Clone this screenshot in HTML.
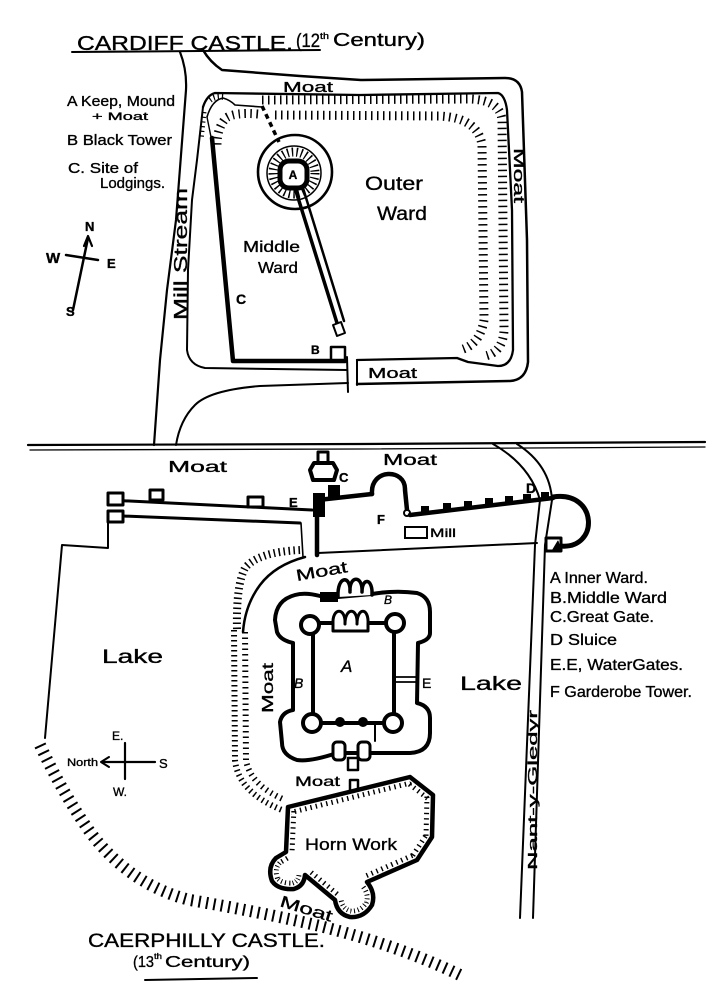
<!DOCTYPE html>
<html>
<head>
<meta charset="utf-8">
<style>
html,body{margin:0;padding:0;background:#fff;}
svg{display:block;}
text{font-family:"Liberation Sans",sans-serif;fill:#000;stroke:#000;stroke-width:0.35;}
</style>
</head>
<body>
<svg width="722" height="1000" viewBox="0 0 722 1000" xmlns="http://www.w3.org/2000/svg">
<defs>
<clipPath id="hornclip"><path d="M288,807 L410,777 L433,795 L432,837 L417,860 L367,882 Q376,893 372,905 Q364,918 350,917 Q337,914 335,900 L305,875 Q304,886 294,889 Q278,890 272,881 Q267,867 276,858 L286,852 Z"/></clipPath>
</defs>
<rect width="722" height="1000" fill="#fff"/>
<g fill="none" stroke="#000" stroke-linecap="round" stroke-linejoin="round">

<!-- ========== CARDIFF ========== -->
<path d="M72,52 L200,51 L320,50" stroke-width="2"/>
<path d="M180,52 Q187,70 186,90 L176,220 L167,290 L160,360 L154,445" stroke-width="2.2"/>
<path d="M203,50 Q210,62 222,70 L300,76 L361,80 L505,78 Q520,78 522,92 L527,240 L528,362 Q526,380 510,381 L357,384" stroke-width="2.5"/>
<path d="M203,107 Q207,95 215,93 L360,95 L498,93 Q505,95 507,110 L512,210 L513,350 Q511,366 498,366 L468,362 L457,358 L357,360" stroke-width="2.3"/>
<path d="M203,107 L197,160 L192,200 L188,270 L187,350 Q189,365 205,368 L347,370" stroke-width="2"/>
<path d="M348,383 L260,386 Q210,390 195,405 Q180,420 176,445" stroke-width="2"/>
<path d="M347,357 L348,392" stroke-width="2"/>
<path d="M357,360 L357,385" stroke-width="2"/>
<path d="M207,117 Q212,100 223,98 Q230,100 235,105 L262,107" stroke-width="1.6"/>
<path d="M207,117 L212,142" stroke-width="1.4"/>
<!-- bank hatching -->
<path d="M262,100 L470,99 Q500,100 502,120 L504,330 Q503,352 485,356" stroke-width="9" stroke-dasharray="1.5 4.5" stroke-linecap="butt"/>
<path d="M275,115 L440,116 Q478,118 482,145 L484,320 Q480,345 460,350" stroke-width="9" stroke-dasharray="1.5 4.5" stroke-linecap="butt"/>
<path d="M258,114 Q235,112 226,118 Q217,128 217,145" stroke-width="9" stroke-dasharray="1.5 4.5" stroke-linecap="butt"/>
<path d="M210,100 Q215,96 224,97" stroke-width="6" stroke-dasharray="1.2 3" stroke-linecap="butt"/>
<path d="M204,112 L201,140" stroke-width="5" stroke-dasharray="1.2 3.5" stroke-linecap="butt"/>
<!-- middle ward wall C -->
<path d="M212,138 L233,361 L345,361" stroke-width="4.5"/>
<path d="M262,106 L279,142" stroke-width="3.5" stroke-dasharray="5 4" stroke-linecap="butt"/>
<!-- keep -->
<circle cx="295" cy="172" r="37" stroke-width="2.6"/>
<circle cx="294" cy="173" r="27" stroke-width="1.5"/>
<circle cx="294" cy="173" r="21" stroke-width="9" stroke-dasharray="1.4 3.2" stroke-linecap="butt"/>
<path d="M295,188 L337,323" stroke-width="3.5"/>
<path d="M303,188 L344,321" stroke-width="2.5"/>
<rect x="280" y="161" width="27" height="27" rx="9" stroke-width="5" fill="#fff"/>
<polygon points="333,325 341,322 345,333 337,336" stroke-width="2" fill="#fff"/>
<rect x="331" y="347" width="14" height="13" stroke-width="2.5" fill="#fff"/>
<!-- compass top -->
<path d="M73,310 L88,238" stroke-width="2.5"/>
<path d="M84,246 L88,236 L92,246" stroke-width="2.2"/>
<path d="M66,255 L98,260" stroke-width="2.5"/>

<!-- divider -->
<path d="M28,445 L360,444 L705,442" stroke-width="2.2"/>
<path d="M30,450 L360,449 L705,447" stroke-width="1.3"/>

<!-- ========== CAERPHILLY ========== -->
<path d="M108,500 L312,510" stroke-width="3"/>
<path d="M123,516 L300,523" stroke-width="3"/>
<path d="M301,523 L303,557" stroke-width="1.6"/>
<rect x="108" y="493" width="15" height="12" stroke-width="3" fill="#fff"/>
<rect x="150" y="490" width="13" height="10" stroke-width="3" fill="#fff"/>
<rect x="248" y="497" width="15" height="10" stroke-width="3" fill="#fff"/>
<rect x="108" y="511" width="15" height="11" stroke-width="3" fill="#fff"/>
<path d="M108,522 L108,548 L62,545 L45,738" stroke-width="2"/>
<!-- great gate -->
<rect x="318" y="452" width="10" height="11" stroke-width="3" fill="#fff"/>
<polygon points="314,463 333,463 337,470 334,480 313,480 310,470" stroke-width="4" fill="#fff"/>
<rect x="313" y="493" width="12" height="24" fill="#000" stroke="none"/>
<rect x="328" y="485" width="12" height="12" fill="#000" stroke="none"/>
<path d="M317,500 L317,555" stroke-width="4.5"/>
<path d="M318,500 L372,494" stroke-width="4.5"/>
<!-- F garderobe -->
<path d="M372,494 C370,468 406,468 405,490 L407,510" stroke-width="4.5"/>
<circle cx="407" cy="513" r="3" stroke-width="2" fill="#fff"/>
<path d="M410,515 L553,498" stroke-width="4.5"/>
<g fill="#000" stroke="none">
<rect x="421" y="506" width="8" height="7"/>
<rect x="443" y="503" width="8" height="7"/>
<rect x="464" y="501" width="8" height="7"/>
<rect x="485" y="498" width="8" height="7"/>
<rect x="505" y="496" width="8" height="7"/>
<rect x="523" y="494" width="8" height="7"/>
<rect x="541" y="492" width="8" height="7"/>
</g>
<path d="M553,497 C598,490 600,550 560,546" stroke-width="5"/>
<rect x="546" y="538" width="15" height="13" stroke-width="3" fill="#fff"/>
<path d="M552,551 L558,541 L561,551 Z" fill="#000" stroke-width="1"/>
<path d="M318,553 L537,543" stroke-width="2"/>
<!-- stream -->
<path d="M493,444 Q530,465 540,500 L535,545 L520,918" stroke-width="2"/>
<path d="M517,444 Q550,465 552,500 L545,545 L533,918" stroke-width="2"/>
<!-- hatch bank around castle -->
<path d="M300,550 Q258,552 245,568 Q236,585 237,630" stroke-width="8" stroke-dasharray="1.5 3.5" stroke-linecap="butt"/>
<path d="M234,630 L235,760 Q238,792 282,810" stroke-width="6" stroke-dasharray="1.5 3.5" stroke-linecap="butt"/>
<path d="M245,632 L246,760 Q250,785 285,800" stroke-width="6" stroke-dasharray="1.5 4" stroke-linecap="butt"/>
<path d="M305,557 Q275,565 260,585 Q245,605 243,632" stroke-width="2.5"/>
<!-- middle ward -->
<path d="M295,595 Q305,592 320,596 L338,597 L372,594 Q395,590 417,593 Q430,597 430,612 L430,633 Q430,640 418,643 L417,703 Q430,706 430,718 L430,733 Q430,752 410,753 L370,753 L337,753 Q310,762 297,760 Q282,755 282,743 L280,722 Q282,712 293,710 L293,643 Q280,640 277,632 L275,620 Q276,600 295,595 Z" stroke-width="4" fill="#fff"/>
<path d="M338,597 C337,575 351,575 350,592 C349,575 363,575 362,592 C362,577 373,578 372,595" stroke-width="3.5" fill="#fff"/>
<rect x="320" y="592" width="18" height="10" fill="#000" stroke="none"/>
<!-- inner ward -->
<rect x="313" y="623" width="81" height="100" stroke-width="4" fill="#fff"/>
<path d="M333,624 C332,607 346,607 345,624 C345,607 358,607 357,624 C357,607 369,607 368,624 L368,631 L333,631 Z" stroke-width="3" fill="#fff"/>
<circle cx="310" cy="625" r="9" stroke-width="4" fill="#fff"/>
<circle cx="395" cy="623" r="9" stroke-width="4" fill="#fff"/>
<circle cx="312" cy="723" r="9" stroke-width="4" fill="#fff"/>
<circle cx="393" cy="723" r="9" stroke-width="4" fill="#fff"/>
<circle cx="340" cy="722" r="5" fill="#000" stroke="none"/>
<circle cx="363" cy="722" r="5" fill="#000" stroke="none"/>
<path d="M375,724 L375,741" stroke-width="2"/>
<path d="M395,677 L417,677 M395,682 L417,682" stroke-width="1.8"/>
<rect x="333" y="742" width="12" height="18" rx="4" stroke-width="3" fill="#fff"/>
<rect x="358" y="742" width="12" height="18" rx="4" stroke-width="3" fill="#fff"/>
<rect x="348" y="758" width="10" height="12" stroke-width="2.5" fill="#fff"/>
<rect x="350" y="780" width="8" height="12" stroke-width="2.5" fill="#fff"/>
<!-- horn work -->
<g clip-path="url(#hornclip)">
<path d="M288,807 L410,777 L433,795 L432,837 L417,860 L367,882 Q376,893 372,905 Q364,918 350,917 Q337,914 335,900 L305,875 Q304,886 294,889 Q278,890 272,881 Q267,867 276,858 L286,852 Z" stroke-width="17" stroke-dasharray="1.4 4" stroke-linecap="butt"/>
<path d="M288,807 L410,777 L433,795 L432,837 L417,860 L367,882 Q376,893 372,905 Q364,918 350,917 Q337,914 335,900 L305,875 Q304,886 294,889 Q278,890 272,881 Q267,867 276,858 L286,852 Z" stroke-width="7" stroke="#fff"/>
</g>
<path d="M288,807 L410,777 L433,795 L432,837 L417,860 L367,882 Q376,893 372,905 Q364,918 350,917 Q337,914 335,900 L305,875 Q304,886 294,889 Q278,890 272,881 Q267,867 276,858 L286,852 Z" stroke-width="4.5"/>
<!-- big bottom hatched arc -->
<path d="M40,745 Q62,792 90,832 Q130,885 190,900 Q260,912 320,926 Q400,946 460,975" stroke-width="12" stroke-dasharray="2 5.5" stroke-linecap="butt"/>
<!-- compass bottom -->
<path d="M125,743 L125,779" stroke-width="2.2"/>
<path d="M102,762 L155,762" stroke-width="2.2"/>
<path d="M109,757 L101,762 L109,767" stroke-width="2"/>
<path d="M145,980 L257,978" stroke-width="2"/>
</g>

<!-- ========== TEXT ========== -->
<g font-family="Liberation Sans, sans-serif">
<text x="77" y="50" font-size="20" textLength="216" lengthAdjust="spacingAndGlyphs">CARDIFF CASTLE.</text>
<text x="296" y="47" font-size="19" textLength="24" lengthAdjust="spacingAndGlyphs">(12</text>
<text x="320" y="39" font-size="9" textLength="9" lengthAdjust="spacingAndGlyphs">th</text>
<text x="333" y="46" font-size="18" textLength="92" lengthAdjust="spacingAndGlyphs">Century)</text>
<text x="67" y="106" font-size="15" textLength="108" lengthAdjust="spacingAndGlyphs">A Keep, Mound</text>
<text x="92" y="120" font-size="11" textLength="56" lengthAdjust="spacingAndGlyphs">+ Moat</text>
<text x="67" y="145" font-size="15" textLength="105" lengthAdjust="spacingAndGlyphs">B Black Tower</text>
<text x="68" y="173" font-size="15" textLength="70" lengthAdjust="spacingAndGlyphs">C. Site of</text>
<text x="100" y="188" font-size="15" textLength="65" lengthAdjust="spacingAndGlyphs">Lodgings.</text>
<text x="283" y="92" font-size="15" textLength="50" lengthAdjust="spacingAndGlyphs">Moat</text>
<text x="365" y="190" font-size="19" textLength="58" lengthAdjust="spacingAndGlyphs">Outer</text>
<text x="377" y="220" font-size="19" textLength="50" lengthAdjust="spacingAndGlyphs">Ward</text>
<text x="243" y="252" font-size="16" textLength="57" lengthAdjust="spacingAndGlyphs">Middle</text>
<text x="258" y="273" font-size="16" textLength="40" lengthAdjust="spacingAndGlyphs">Ward</text>
<text x="236" y="304" font-size="14" font-weight="bold">C</text>
<text x="311" y="354" font-size="12" font-weight="bold">B</text>
<text x="293" y="179" font-size="12" font-weight="bold" text-anchor="middle">A</text>
<text x="368" y="378" font-size="15" textLength="49" lengthAdjust="spacingAndGlyphs">Moat</text>
<text transform="translate(514,148) rotate(90)" font-size="15" textLength="55" lengthAdjust="spacingAndGlyphs">Moat</text>
<text transform="translate(187,320) rotate(-90)" font-size="18" textLength="132" lengthAdjust="spacingAndGlyphs">Mill Stream</text>
<text x="85" y="231" font-size="13" font-weight="bold">N</text>
<text x="46" y="263" font-size="15" font-weight="bold">W</text>
<text x="107" y="268" font-size="13" font-weight="bold">E</text>
<text x="66" y="316" font-size="13" font-weight="bold">S</text>

<text x="168" y="472" font-size="16" textLength="59" lengthAdjust="spacingAndGlyphs">Moat</text>
<text x="383" y="465" font-size="16" textLength="54" lengthAdjust="spacingAndGlyphs">Moat</text>
<text x="289" y="507" font-size="13" font-weight="bold">E</text>
<text x="339" y="482" font-size="13" font-weight="bold">C</text>
<text x="377" y="524" font-size="13" font-weight="bold">F</text>
<text x="526" y="493" font-size="14" font-weight="bold">D</text>
<rect x="405" y="527" width="22" height="11" fill="none" stroke="#000" stroke-width="2"/>
<text x="430" y="537" font-size="12" textLength="26" lengthAdjust="spacingAndGlyphs">Mill</text>
<text transform="translate(297,581) rotate(-10)" font-size="16" textLength="52" lengthAdjust="spacingAndGlyphs">Moat</text>
<text x="384" y="604" font-size="12" font-style="italic">B</text>
<text x="294" y="688" font-size="14" font-style="italic">B</text>
<text x="341" y="672" font-size="17" font-style="italic">A</text>
<text x="422" y="688" font-size="14">E</text>
<text x="460" y="690" font-size="19" textLength="62" lengthAdjust="spacingAndGlyphs">Lake</text>
<text x="102" y="663" font-size="19" textLength="61" lengthAdjust="spacingAndGlyphs">Lake</text>
<text transform="translate(273,713) rotate(-90)" font-size="16" textLength="50" lengthAdjust="spacingAndGlyphs">Moat</text>
<text x="295" y="786" font-size="14" textLength="45" lengthAdjust="spacingAndGlyphs">Moat</text>
<text x="305" y="850" font-size="17" textLength="92" lengthAdjust="spacingAndGlyphs">Horn Work</text>
<text transform="translate(279,906) rotate(17)" font-size="16" textLength="54" lengthAdjust="spacingAndGlyphs">Moat</text>
<text transform="translate(537,870) rotate(-90)" font-size="13" textLength="160" lengthAdjust="spacingAndGlyphs">Nant-y-Gledyr</text>
<text x="550" y="583" font-size="16" textLength="98" lengthAdjust="spacingAndGlyphs">A Inner Ward.</text>
<text x="550" y="603" font-size="16" textLength="117" lengthAdjust="spacingAndGlyphs">B.Middle Ward</text>
<text x="550" y="622" font-size="16" textLength="104" lengthAdjust="spacingAndGlyphs">C.Great Gate.</text>
<text x="550" y="645" font-size="16" textLength="67" lengthAdjust="spacingAndGlyphs">D Sluice</text>
<text x="550" y="670" font-size="16" textLength="133" lengthAdjust="spacingAndGlyphs">E.E, WaterGates.</text>
<text x="550" y="697" font-size="16" textLength="142" lengthAdjust="spacingAndGlyphs">F Garderobe Tower.</text>
<text x="112" y="740" font-size="12">E.</text>
<text x="67" y="766" font-size="11" textLength="31" lengthAdjust="spacingAndGlyphs">North</text>
<text x="159" y="768" font-size="13">S</text>
<text x="113" y="796" font-size="12">W.</text>
<text x="88" y="947" font-size="19" textLength="237" lengthAdjust="spacingAndGlyphs">CAERPHILLY CASTLE.</text>
<text x="133" y="967" font-size="16" textLength="21" lengthAdjust="spacingAndGlyphs">(13</text>
<text x="154" y="959" font-size="8" textLength="8" lengthAdjust="spacingAndGlyphs">th</text>
<text x="165" y="967" font-size="16" textLength="85" lengthAdjust="spacingAndGlyphs">Century)</text>
</g>
</svg>
</body>
</html>
